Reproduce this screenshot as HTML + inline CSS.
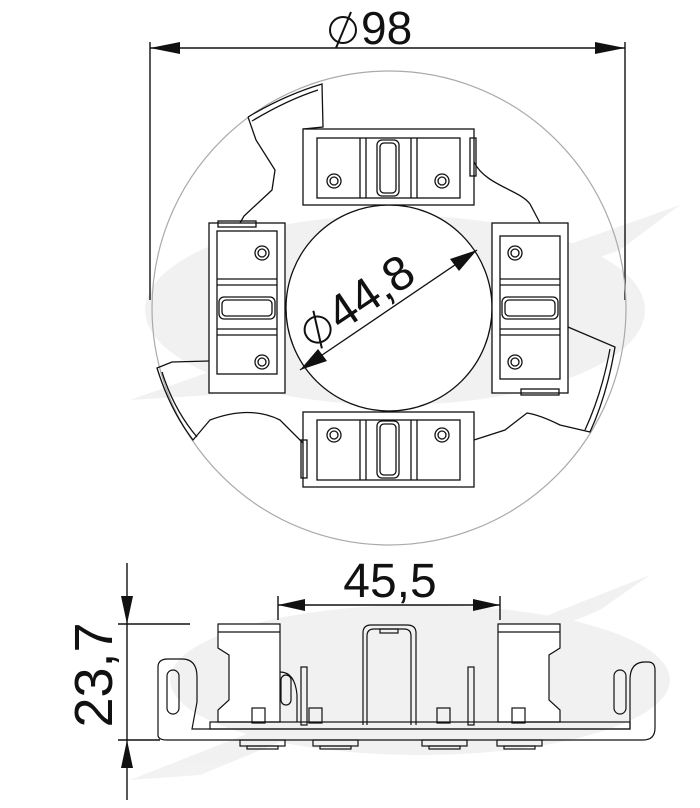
<!DOCTYPE html>
<html><head><meta charset="utf-8"><style>
html,body{margin:0;padding:0;background:#fff;}
svg{display:block;}
text{font-family:"Liberation Sans",sans-serif;fill:#111;}
</style></head><body>
<svg width="700" height="808" viewBox="0 0 700 808" xmlns="http://www.w3.org/2000/svg">
<!-- watermark -->
<g fill="#ececec" opacity="0.7">
<ellipse cx="395" cy="310" rx="250" ry="95"/>
<polygon points="130,400 680,205 620,250 210,395"/>
<ellipse cx="420" cy="680" rx="250" ry="75"/>
<polygon points="130,780 650,575 600,610 200,775"/>
</g>
<g fill="none" stroke="#111" stroke-width="1.4">
<line x1="150" y1="42" x2="150" y2="300"/>
<line x1="625" y1="42" x2="625" y2="300"/>
<line x1="150" y1="48" x2="625" y2="48"/>
</g>
<polygon points="150,48 180,42 180,54" fill="#111"/>
<polygon points="625,48 595,42 595,54" fill="#111"/>
<g fill="none" stroke="#111" stroke-width="2">
<circle cx="343" cy="30" r="13"/>
<line x1="336" y1="48" x2="351" y2="12"/>
</g>
<text x="361" y="44" font-size="46">98</text>
<circle cx="389" cy="308" r="237" fill="none" stroke="#aaa" stroke-width="1.2"/>
<g fill="none" stroke="#111" stroke-width="1.3">
<!-- body outline -->
<path d="M248,117 Q285,95 322,84 L323,127 L303,129"/>
<path d="M248,117 L256,140 L275,170 L272,190 L244,216 L240,223"/>
<path d="M252,121 Q287,100 318,90"/>
<path d="M474,162 C485,185 520,190 530,204 L540,223"/>
<path d="M568,327 L615,347 Q607,395 590,432 L560,425 Q540,415 527,413 L505,430 L474,440"/>
<path d="M610,349 Q602,393 585,430"/>
<path d="M209,361 L172,362 L157,368 Q170,410 193,440 L210,420 Q250,405 280,420 L303,443"/>
<path d="M162,372 Q174,410 197,437"/>
<circle cx="389" cy="308" r="103" fill="#fff"/>
<!-- top clip -->
<rect x="303" y="129" width="171" height="76" fill="#fff"/>
<rect x="317" y="138" width="143" height="60"/>
<line x1="360" y1="138" x2="360" y2="198"/><line x1="366" y1="138" x2="366" y2="198"/>
<line x1="411" y1="138" x2="411" y2="198"/><line x1="417" y1="138" x2="417" y2="198"/>
<rect x="377" y="140" width="22" height="56" rx="5"/><rect x="380" y="143" width="16" height="50" rx="4"/>
<circle cx="334" cy="181" r="7"/><circle cx="334" cy="181" r="4"/>
<circle cx="442" cy="181" r="7"/><circle cx="442" cy="181" r="4"/>
<rect x="470" y="138" width="6" height="38"/>
<!-- bottom clip -->
<rect x="303" y="412" width="171" height="75" fill="#fff"/>
<rect x="317" y="420" width="143" height="60"/>
<line x1="360" y1="420" x2="360" y2="480"/><line x1="366" y1="420" x2="366" y2="480"/>
<line x1="411" y1="420" x2="411" y2="480"/><line x1="417" y1="420" x2="417" y2="480"/>
<rect x="377" y="421" width="22" height="57" rx="5"/><rect x="380" y="424" width="16" height="51" rx="4"/>
<circle cx="334" cy="435" r="7"/><circle cx="334" cy="435" r="4"/>
<circle cx="442" cy="435" r="7"/><circle cx="442" cy="435" r="4"/>
<rect x="301" y="440" width="6" height="38"/>
<!-- left clip -->
<rect x="209" y="223" width="76" height="170" fill="#fff"/>
<rect x="217" y="231" width="60" height="143"/>
<line x1="217" y1="279" x2="277" y2="279"/><line x1="217" y1="285" x2="277" y2="285"/>
<line x1="217" y1="329" x2="277" y2="329"/><line x1="217" y1="335" x2="277" y2="335"/>
<rect x="219" y="297" width="56" height="22" rx="5"/><rect x="222" y="300" width="50" height="16" rx="4"/>
<circle cx="262" cy="253" r="7"/><circle cx="262" cy="253" r="4"/>
<circle cx="262" cy="362" r="7"/><circle cx="262" cy="362" r="4"/>
<rect x="218" y="221" width="38" height="6"/>
<!-- right clip -->
<rect x="492" y="223" width="76" height="170" fill="#fff"/>
<rect x="500" y="236" width="60" height="143"/>
<line x1="500" y1="279" x2="560" y2="279"/><line x1="500" y1="285" x2="560" y2="285"/>
<line x1="500" y1="329" x2="560" y2="329"/><line x1="500" y1="335" x2="560" y2="335"/>
<rect x="502" y="297" width="56" height="22" rx="5"/><rect x="505" y="300" width="50" height="16" rx="4"/>
<circle cx="515" cy="253" r="7"/><circle cx="515" cy="253" r="4"/>
<circle cx="515" cy="362" r="7"/><circle cx="515" cy="362" r="4"/>
<rect x="521" y="389" width="38" height="6"/>
<line x1="300" y1="370" x2="477" y2="250"/>
</g>
<polygon points="300,370 318,349 327,361" fill="#111"/>
<polygon points="477,250 450,259 459,271" fill="#111"/>
<g transform="translate(326,342) rotate(-34)">
<circle cx="0" cy="-15" r="13" fill="none" stroke="#111" stroke-width="2"/>
<line x1="-7" y1="3" x2="7" y2="-33" stroke="#111" stroke-width="2"/>
<text x="18" y="0" font-size="48">44,8</text>
</g>

<!-- side view -->
<g fill="none" stroke="#111" stroke-width="1.4">
<line x1="127" y1="563" x2="127" y2="800"/>
<line x1="118" y1="624" x2="190" y2="624"/>
<line x1="118" y1="740" x2="160" y2="740"/>
<line x1="278" y1="596" x2="278" y2="620"/>
<line x1="500" y1="596" x2="500" y2="620"/>
<line x1="278" y1="605" x2="500" y2="605"/>
</g>
<polygon points="127,624 121,596 133,596" fill="#111"/>
<polygon points="127,740 121,768 133,768" fill="#111"/>
<polygon points="278,605 305,599 305,611" fill="#111"/>
<polygon points="500,605 473,599 473,611" fill="#111"/>
<text x="390" y="597" font-size="48" text-anchor="middle">45,5</text>
<text x="0" y="0" font-size="54" text-anchor="middle" transform="translate(112,675) rotate(-90)">23,7</text>
<g fill="none" stroke="#111" stroke-width="1.2">
<path d="M158,735 L158,667 Q158,659 168,659 L182,659 Q197,659 197,677 L197,702 L192,729 L630,729 L630,680 Q630,662 645,662 L648,662 Q655,662 655,670 L655,728 Q655,740 643,740 L167,740 Q158,740 158,735 Z"/>
<rect x="167" y="670" width="12" height="44" rx="6"/>
<rect x="614" y="670" width="12" height="44" rx="6"/>
<path d="M218,624 L280,624 L280,722 L218,722 L218,710 L229,700 L229,655 L218,648 Z" fill="#fff"/>
<line x1="218" y1="632" x2="280" y2="632"/>
<path d="M498,624 L560,624 L560,648 L549,655 L549,700 L560,710 L560,722 L498,722 Z" fill="#fff"/>
<line x1="498" y1="632" x2="560" y2="632"/>
<path d="M363,725 L363,633 Q363,625 371,625 L407,625 Q416,625 416,633 L416,725"/>
<path d="M367,725 L367,636 Q367,629 374,629 L404,629 Q411,629 411,636 L411,725"/>
<rect x="380" y="629" width="18" height="4"/>
<rect x="301" y="667" width="6" height="58"/>
<rect x="468" y="667" width="6" height="58"/>
<path d="M280,672 Q295,672 297,695 L297,722"/>
<rect x="281" y="675" width="10" height="30" rx="5"/>
<rect x="252" y="708" width="13" height="15"/><rect x="309" y="708" width="13" height="15"/>
<rect x="437" y="708" width="13" height="15"/><rect x="512" y="708" width="13" height="15"/>
<rect x="210" y="722" width="420" height="7"/>
<rect x="240" y="740" width="45" height="6"/><rect x="247" y="746" width="31" height="3"/>
<rect x="313" y="740" width="45" height="6"/><rect x="320" y="746" width="31" height="3"/>
<rect x="422" y="740" width="45" height="6"/><rect x="429" y="746" width="31" height="3"/>
<rect x="497" y="740" width="45" height="6"/><rect x="504" y="746" width="31" height="3"/>
</g>
</svg>
</body></html>
